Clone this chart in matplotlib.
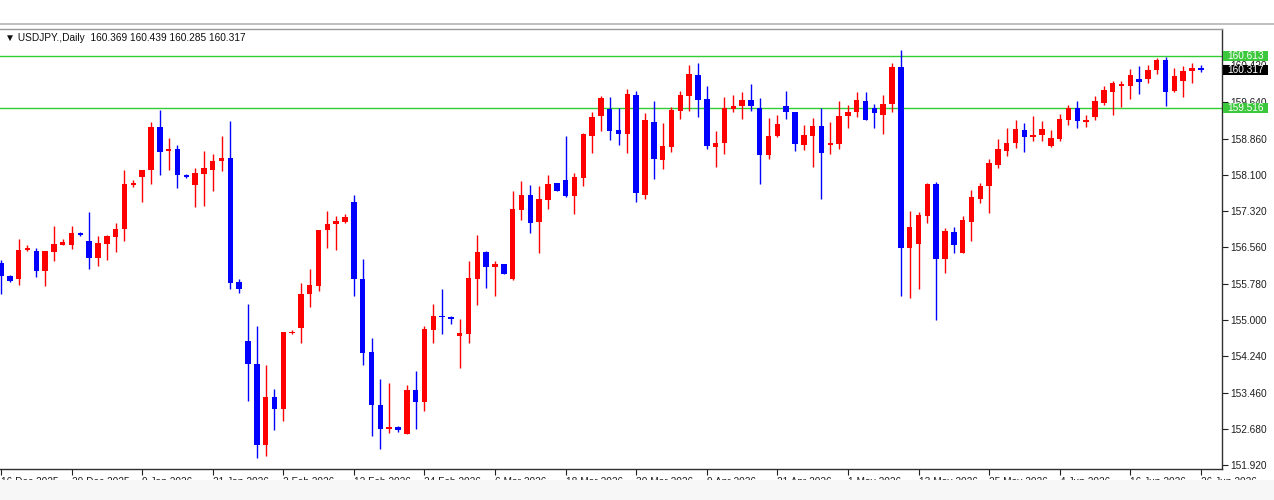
import numpy as np
import matplotlib
matplotlib.use("Agg")
import matplotlib.pyplot as plt
from matplotlib.patches import Rectangle
from matplotlib.lines import Line2D
import matplotlib.transforms as mtransforms

plt.rcParams['font.family'] = ['Liberation Sans', 'DejaVu Sans']

# daily USDJPY candles
opens = [156.22, 155.94, 155.87, 156.49, 156.47, 156.05, 156.45, 156.61, 156.61, 156.86,
         156.68, 156.33, 156.63, 156.77, 156.95, 157.88, 158.05, 158.19, 159.12, 158.59,
         158.64, 158.08, 157.87, 158.12, 158.19, 158.38, 158.45, 155.81, 154.56, 154.06,
         152.35, 153.37, 153.11, 154.72, 154.83, 155.56, 155.73, 156.93, 157.05, 157.09,
         157.52, 155.88, 154.33, 153.20, 152.68, 152.73, 152.59, 153.51, 153.27, 154.79,
         155.09, 155.07, 154.67, 154.70, 155.88, 156.45, 156.14, 156.19, 155.87, 157.34,
         157.66, 157.09, 157.55, 157.92, 157.99, 157.65, 158.03, 158.91, 159.34, 159.49,
         159.05, 158.97, 159.80, 157.67, 159.22, 158.40, 158.69, 159.46, 159.78, 160.22,
         159.70, 158.68, 158.77, 159.50, 159.55, 159.68, 159.51, 158.51, 158.91, 159.56,
         159.44, 158.72, 158.93, 159.14, 158.72, 158.76, 159.34, 159.43, 159.66, 159.51,
         159.37, 159.60, 160.38, 156.54, 156.63, 157.21, 157.89, 156.31, 156.87, 156.44,
         157.09, 157.57, 157.85, 158.31, 158.59, 158.77, 159.05, 158.89, 158.95, 158.70,
         158.86, 159.27, 159.51, 159.22, 159.32, 159.63, 159.85, 159.99, 159.99, 160.14,
         160.14, 160.33, 160.53, 159.87, 160.09, 160.31, 160.369]
highs = [156.29, 155.96, 156.72, 156.60, 156.54, 156.47, 157.00, 156.72, 157.00, 156.88,
         157.31, 156.79, 156.82, 157.07, 158.19, 157.99, 158.20, 159.21, 159.48, 158.88,
         158.72, 158.11, 158.24, 158.59, 158.54, 158.91, 159.23, 155.87, 155.34, 154.88,
         154.05, 153.53, 154.76, 154.79, 155.80, 156.10, 156.93, 157.32, 157.21, 157.26,
         157.67, 156.31, 154.63, 153.75, 153.66, 152.76, 153.62, 153.91, 154.88, 155.34,
         155.66, 155.09, 155.03, 156.27, 156.82, 156.48, 156.26, 156.19, 157.76, 157.97,
         157.87, 157.85, 158.08, 157.92, 158.91, 158.13, 158.98, 159.44, 159.76, 159.75,
         159.51, 159.92, 159.87, 159.41, 159.66, 159.20, 159.53, 159.87, 160.43, 160.47,
         159.99, 159.02, 159.75, 159.80, 159.85, 160.03, 159.73, 159.30, 159.37, 159.87,
         159.44, 159.16, 159.30, 159.51, 159.21, 159.66, 159.58, 159.85, 159.85, 159.61,
         159.80, 160.47, 160.74, 157.33, 157.31, 157.92, 157.94, 156.97, 156.98, 157.21,
         157.78, 157.91, 158.42, 158.86, 159.09, 159.27, 159.20, 159.35, 159.23, 159.05,
         159.39, 159.58, 159.66, 159.37, 159.76, 159.99, 160.09, 160.08, 160.35, 160.40,
         160.43, 160.58, 160.60, 160.36, 160.40, 160.48, 160.439]
lows = [155.55, 155.81, 155.75, 156.47, 155.92, 155.73, 156.27, 156.60, 156.51, 156.79,
        156.10, 156.15, 156.29, 156.46, 156.68, 157.84, 157.52, 157.89, 158.10, 158.19,
        157.82, 158.03, 157.41, 157.43, 157.74, 158.17, 155.66, 155.59, 153.29, 152.07,
        152.12, 152.66, 152.85, 154.70, 154.52, 155.28, 155.62, 156.53, 156.49, 157.07,
        155.52, 154.04, 152.54, 152.26, 152.60, 152.63, 152.58, 152.68, 153.06, 154.52,
        154.70, 154.93, 153.99, 154.51, 155.32, 155.68, 155.52, 155.98, 155.86, 157.13,
        156.85, 156.44, 157.37, 157.74, 157.62, 157.27, 157.85, 158.56, 159.02, 158.84,
        158.72, 158.56, 157.51, 157.58, 158.01, 158.22, 158.57, 159.29, 159.46, 159.32,
        158.64, 158.26, 158.54, 159.43, 159.29, 159.46, 157.89, 158.43, 158.90, 159.29,
        158.59, 158.63, 158.26, 157.58, 158.54, 158.65, 159.10, 159.32, 159.25, 159.10,
        158.96, 159.44, 155.52, 155.48, 155.66, 157.07, 155.01, 156.01, 156.44, 156.42,
        156.68, 157.50, 157.28, 158.24, 158.49, 158.66, 158.58, 158.81, 158.81, 158.69,
        158.81, 159.16, 159.10, 159.11, 159.27, 159.57, 159.36, 159.53, 159.71, 159.81,
        160.04, 160.24, 159.55, 159.85, 159.75, 160.04, 160.285]
closes = [155.94, 155.83, 156.49, 156.53, 156.05, 156.47, 156.63, 156.67, 156.86, 156.82,
          156.33, 156.65, 156.79, 156.95, 157.89, 157.93, 158.20, 159.12, 158.58, 158.64,
          158.08, 158.05, 158.13, 158.23, 158.38, 158.45, 155.80, 155.67, 154.06, 152.35,
          153.37, 153.11, 154.76, 154.76, 155.56, 155.74, 156.93, 157.05, 157.11, 157.19,
          155.87, 154.31, 153.20, 152.68, 152.73, 152.66, 153.51, 153.27, 154.81, 155.09,
          155.06, 155.03, 154.72, 155.89, 156.45, 156.13, 156.19, 155.99, 157.36, 157.66,
          157.06, 157.57, 157.90, 157.74, 157.64, 158.04, 158.96, 159.32, 159.73, 159.03,
          158.97, 159.82, 157.71, 159.25, 158.43, 158.70, 159.48, 159.80, 160.24, 159.69,
          158.70, 158.78, 159.51, 159.56, 159.68, 159.55, 158.51, 158.93, 159.18, 159.43,
          158.75, 158.95, 159.14, 158.56, 158.78, 159.35, 159.42, 159.68, 159.27, 159.41,
          159.61, 160.38, 156.54, 156.98, 157.23, 157.89, 156.31, 156.90, 156.61, 157.14,
          157.62, 157.85, 158.35, 158.64, 158.78, 159.07, 158.89, 158.95, 159.07, 158.88,
          159.28, 159.51, 159.23, 159.27, 159.66, 159.89, 160.04, 160.02, 160.22, 160.07,
          160.33, 160.54, 159.85, 160.19, 160.31, 160.37, 160.317]

price_ticks = [151.920, 152.680, 153.460, 154.240, 155.000, 155.780, 156.560,
               157.320, 158.100, 158.860, 159.640, 160.420]
date_labels = ["16 Dec 2025", "29 Dec 2025", "9 Jan 2026", "21 Jan 2026", "2 Feb 2026",
               "12 Feb 2026", "24 Feb 2026", "6 Mar 2026", "18 Mar 2026", "30 Mar 2026",
               "9 Apr 2026", "21 Apr 2026", "1 May 2026", "13 May 2026", "25 May 2026",
               "4 Jun 2026", "16 Jun 2026", "26 Jun 2026"]
level_hi = 160.613
level_lo = 159.516
last_close = 160.317

o = np.array(opens)
h = np.array(highs)
l = np.array(lows)
c = np.array(closes)
x = np.arange(len(o))
up = c > o
col = np.where(up, "#ff0000", "#0000ff")

fig = plt.figure(figsize=(12.74, 5.0), dpi=100)
fig.patch.set_facecolor("white")
ax = fig.add_axes([0, 31 / 500, 1222 / 1274, 440 / 500])
ax.set_facecolor("white")

# wicks and bodies
ax.vlines(x, l, h, colors=col, linewidth=1.0, zorder=2)
body_lo = np.minimum(o, c)
body_h = np.maximum(np.abs(c - o), 0.03)
ax.bar(x, body_h, bottom=body_lo, width=0.62, color=col, linewidth=0, zorder=3)

# horizontal levels
ax.axhline(level_hi, color="#32cd32", linewidth=1.0, zorder=1)
ax.axhline(level_lo, color="#32cd32", linewidth=1.0, zorder=1)

ax.set_xlim(-0.11, 138.4)
ax.set_ylim(151.835, 161.196)

ax.yaxis.tick_right()
ax.set_yticks(price_ticks)
ax.set_yticklabels(["%.3f" % p for p in price_ticks])
ax.tick_params(axis="y", direction="out", length=4, width=0.8, pad=2,
               labelsize=7.3, colors="#202020")

tick_idx = list(range(0, len(o), 8))
ax.set_xticks(tick_idx)
ax.set_xticklabels(date_labels)
for t in ax.get_xticklabels():
    t.set_horizontalalignment("left")
ax.tick_params(axis="x", direction="out", length=4, width=0.8, pad=2,
               labelsize=7.3, colors="#202020")

ax.spines["left"].set_visible(False)
ax.spines["top"].set_color("#9a9a9a")
ax.spines["right"].set_color("#303030")
ax.spines["bottom"].set_color("#303030")
for side in ["top", "right", "bottom"]:
    ax.spines[side].set_linewidth(1.0)

# header
ax.text(0.004, 0.979, "\u25bc USDJPY.,Daily  160.369 160.439 160.285 160.317",
        transform=ax.transAxes, ha="left", va="center", fontsize=7.3, color="#101010")

# price labels on the right scale (they sit on top of the regular scale labels)
trans = mtransforms.blended_transform_factory(ax.transAxes, ax.transData)
box_h = 0.215
for val, bg in [(level_hi, "#3cc83c"), (level_lo, "#3cc83c"), (last_close, "#000000")]:
    ax.add_patch(Rectangle((1.0012, val - box_h / 2), 0.0365, box_h, transform=trans,
                           facecolor=bg, edgecolor="none", clip_on=False, zorder=4))
    ax.text(1.0045, val, "%.3f" % val, transform=trans, ha="left", va="center",
            fontsize=7.3, color="white", clip_on=False, zorder=5)

# window frame bits and the cut-off strip at the bottom
fig.add_artist(Line2D([0, 1], [476 / 500, 476 / 500], color="#b4b4b4", linewidth=1.2,
                      transform=fig.transFigure))
fig.add_artist(Rectangle((0, 0), 1, 20 / 500, transform=fig.transFigure,
                         facecolor="#f7f7f7", edgecolor="none", zorder=10))

fig.savefig("out.png", dpi=100)
